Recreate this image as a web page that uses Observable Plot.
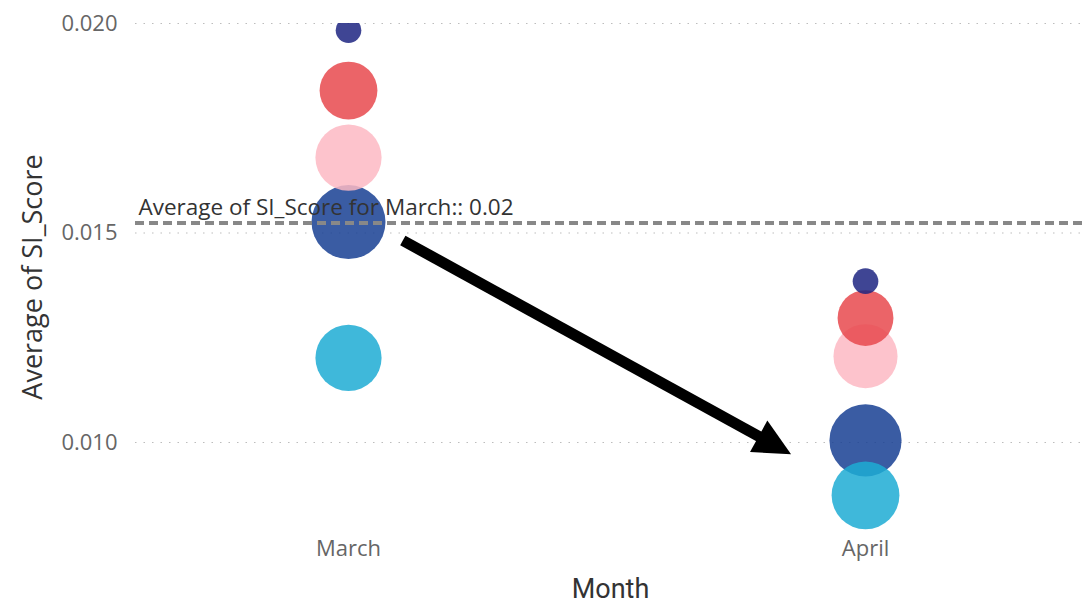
<!DOCTYPE html>
<html>
<head>
<meta charset="utf-8">
<script src="https://cdn.jsdelivr.net/npm/d3@7"></script>
<script src="https://cdn.jsdelivr.net/npm/@observablehq/plot@0.6"></script>
<style>
  html, body { margin: 0; padding: 0; background: #fff; }
  #chart svg { display: block; }
</style>
</head>
<body>
<div id="chart"></div>
<script>
// Months on the x axis (index 0, 1)
const months = ["March", "April"];

// Segments, listed in drawing order
const segments = ["Segment A", "Segment B", "Segment C", "Segment D", "Segment E"];
const segmentColors = ["#184093", "#1D2481", "#E8494E", "#FDB9C3", "#1DACD3"];

// Average SI_Score per segment and month
const marchScores = [0.01526, 0.01984, 0.0184, 0.0168, 0.01202];
const aprilScores = [0.01005, 0.01385, 0.01297, 0.01206, 0.00874];

// Bubble size measure per segment and month
const marchCounts = [100, 12, 61, 80, 80];
const aprilCounts = [95, 12, 57, 75, 84];

// Reference line: average of SI_Score for March
const marchAverage = 0.01524;

// Y axis ticks
const yTicks = [0.010, 0.015, 0.020];

// Trend arrow from March to April (x as month index, y as score)
const trendArrow = [{x1: 0.106, y1: 0.01481, x2: 0.857, y2: 0.00971}];

const rows = [];
segments.forEach((s, i) => {
  rows.push({month: 0, segment: s, score: marchScores[i], count: marchCounts[i]});
  rows.push({month: 1, segment: s, score: aprilScores[i], count: aprilCounts[i]});
});
// keep segment drawing order
rows.sort((a, b) => segments.indexOf(a.segment) - segments.indexOf(b.segment));

const font = "'Open Sans', 'DejaVu Sans', sans-serif";

// Arrow drawn with the chart's own x and y scales
function arrowMark(index, scales) {
  const g = d3.create("svg:g");
  for (const a of trendArrow) {
    const sx = scales.x(a.x1), sy = scales.y(a.y1);
    const tx = scales.x(a.x2), ty = scales.y(a.y2);
    const len = Math.hypot(tx - sx, ty - sy);
    const ux = (tx - sx) / len, uy = (ty - sy) / len;
    const headLen = 37, headHalf = 18;
    const bx = tx - headLen * ux, by = ty - headLen * uy;
    g.append("line")
      .attr("x1", sx).attr("y1", sy)
      .attr("x2", bx + 4 * ux).attr("y2", by + 4 * uy)
      .attr("stroke", "#000").attr("stroke-width", 11);
    g.append("path")
      .attr("d", `M${tx},${ty}L${bx - headHalf * uy},${by + headHalf * ux}L${bx + headHalf * uy},${by - headHalf * ux}Z`)
      .attr("fill", "#000");
  }
  return g.node();
}

const chart = Plot.plot({
  width: 1090,
  height: 612,
  marginLeft: 135,
  marginRight: 5,
  marginTop: 23,
  marginBottom: 82,
  style: {fontFamily: font, background: "#fff"},
  x: {domain: [-0.412, 1.4255], axis: null},
  y: {domain: [0.0079, 0.020], axis: null},
  r: {domain: [0, 100], range: [0, 37]},
  color: {domain: segments, range: segmentColors},
  marks: [
    Plot.gridY(yTicks, {stroke: "#bdbdbd", strokeOpacity: 1, strokeWidth: 1.2, strokeDasharray: "1.5,7"}),
    Plot.axisY({
      ticks: yTicks, tickSize: 0, tickPadding: 18, label: null,
      tickFormat: d3.format(".3f"), fontSize: 22, fill: "#666"
    }),
    Plot.axisX({
      ticks: [0, 1], tickSize: 0, tickPadding: 10, label: null,
      tickFormat: i => months[i], fontSize: 22, fill: "#666"
    }),
    Plot.text(["Month"], {frameAnchor: "bottom", dy: 67, fontSize: 27, fill: "#333", fontFamily: "Roboto, 'Open Sans', sans-serif"}),
    Plot.text(["Average of SI_Score"], {frameAnchor: "left", textAnchor: "middle", rotate: -90, dx: -102, fontSize: 27, fill: "#333"}),
    Plot.dot(rows, {
      x: "month", y: "score", r: "count", fill: "segment",
      fillOpacity: 0.85, stroke: null, clip: true
    }),
    Plot.ruleY([marchAverage], {stroke: "#888", strokeWidth: 4, strokeDasharray: "9,5"}),
    Plot.text([marchAverage], {
      y: d => d, frameAnchor: "left", textAnchor: "start", dx: 3, dy: -15,
      text: d => `Average of SI_Score for March:: ${d3.format(".2f")(d)}`,
      fontSize: 22.5, fill: "#333"
    }),
    arrowMark
  ]
});

document.getElementById("chart").appendChild(chart);
</script>
</body>
</html>
